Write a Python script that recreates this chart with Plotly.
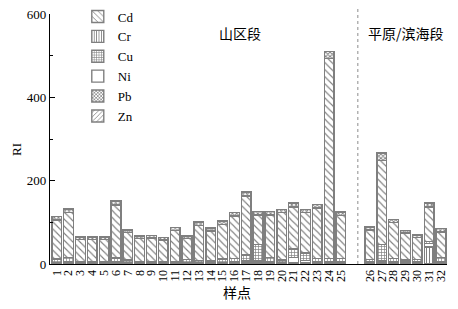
import plotly.graph_objects as go

samples = [str(i) for i in range(1, 33)]
Cd = [94, 108, 54, 54, 54, 128, 65, 56, 56, 53, 74, 50, 85, 72, 83, 102, 141, 71, 103, 113, 101, 97, 121, 480, 103,
      71, 202, 86, 64, 52, 83, 62]
Cr = [2, 3, 1, 1, 1, 3, 2, 1, 1, 1, 1, 2, 2, 2, 2, 2, 3, 3, 2, 2, 3, 3, 2, 2, 2,
      2, 3, 2, 2, 2, 40, 2]
Cu = [8, 10, 2, 2, 2, 8, 6, 2, 3, 2, 3, 7, 4, 3, 8, 8, 15, 40, 10, 6, 20, 18, 8, 8, 8,
      6, 40, 8, 5, 6, 5, 10]
Ni = [1, 1, 1, 1, 1, 2, 1, 1, 1, 1, 1, 1, 1, 1, 1, 2, 3, 3, 2, 1, 12, 4, 2, 2, 2,
      2, 3, 2, 2, 2, 8, 2]
Pb = [8, 9, 6, 6, 6, 9, 7, 6, 6, 5, 7, 6, 8, 7, 8, 9, 10, 8, 8, 8, 9, 8, 9, 17, 9,
      7, 17, 8, 7, 7, 9, 8]
Zn = [1] * 32
y_ticks = [0, 200, 400, 600]

# x positions: mountain segment 1-25, then a gap before the plain/coastal segment
xpos = [i + 1 if i < 25 else i + 2.45 for i in range(32)]
divider = 26.43

SERIF = "Liberation Serif, Times New Roman, serif"
CJK = "Noto Sans CJK SC"
edge = dict(color="#7f7f7f", width=1.4)

series = [
    ("Zn", Zn, dict(shape="/", size=4, solidity=0.25)),
    ("Cr", Cr, dict(shape="|", size=3, solidity=0.35)),
    ("Ni", Ni, dict(shape="")),
    ("Cu", Cu, dict(shape="+", size=3, solidity=0.4)),
    ("Cd", Cd, dict(shape="\\", size=5, solidity=0.22)),
    ("Pb", Pb, dict(shape="x", size=3, solidity=0.5)),
]
legend_rank = {"Cd": 1, "Cr": 2, "Cu": 3, "Ni": 4, "Pb": 5, "Zn": 6}

fig = go.Figure()
for name, vals, pat in series:
    p = dict(pat)
    p.update(fgcolor="black", bgcolor="white", fillmode="overlay")
    fig.add_trace(go.Bar(
        x=xpos, y=vals, name=name,
        marker=dict(color="white", line=edge, pattern=p),
        legendrank=legend_rank[name],
        width=0.82,
    ))

fig.add_shape(type="line", xref="x", yref="paper", x0=divider, x1=divider, y0=0, y1=1.03,
              line=dict(color="#8c8c8c", width=1, dash="dot"))

fig.add_annotation(text="山区段", x=(240 - 50) / 397, y=(264 - 33) / 250, xref="paper", yref="paper",
                   xanchor="center", yanchor="middle", showarrow=False,
                   font=dict(family=CJK, size=14, color="black"))
fig.add_annotation(text="平原/滨海段", x=(406 - 50) / 397, y=(264 - 33) / 250, xref="paper", yref="paper",
                   xanchor="center", yanchor="middle", showarrow=False,
                   font=dict(family=CJK, size=14, color="black"))
fig.add_annotation(text="样点", x=(237 - 50) / 397, y=-(292 - 264) / 250, xref="paper", yref="paper",
                   xanchor="center", yanchor="middle", showarrow=False,
                   font=dict(family=CJK, size=14, color="black"))
fig.add_annotation(text="RI", x=-(50 - 16) / 397, y=(264 - 150) / 250, xref="paper", yref="paper",
                   xanchor="center", yanchor="middle", showarrow=False, textangle=-90,
                   font=dict(family=SERIF, size=13, color="black"))

# page has an 8px body margin, so the figure is shifted; compensate here
fig.update_layout(
    barmode="stack",
    width=450, height=301,
    margin=dict(l=42, r=11, t=6, b=45, autoexpand=False),
    paper_bgcolor="white", plot_bgcolor="white",
    font=dict(family=SERIF, size=13, color="black"),
    legend=dict(x=0.07, y=1.05, xanchor="left", yanchor="top", traceorder="normal",
                bgcolor="rgba(0,0,0,0)", font=dict(family=SERIF, size=13), tracegroupgap=0,
                itemwidth=30),
    showlegend=True,
)
fig.update_xaxes(
    range=[0.43, 33.96], tickmode="array", tickvals=xpos, ticktext=samples, tickangle=-90,
    showline=True, linecolor="black", linewidth=1.2, ticks="", showgrid=False, zeroline=False,
    tickfont=dict(family=SERIF, size=12), automargin=False, ticklabeloverflow="allow",
)
fig.update_yaxes(
    range=[0, 600], tickmode="array", tickvals=y_ticks, ticks="inside", ticklen=5,
    tickcolor="black", showline=True, linecolor="black", linewidth=1.2, showgrid=False,
    zeroline=False, tickfont=dict(family=SERIF, size=13), automargin=False,
    ticklabeloverflow="allow",
    minor=dict(tickmode="array", tickvals=[100, 300, 500], ticks="inside", ticklen=3, tickcolor="black"),
)

fig.write_html("out.html")
